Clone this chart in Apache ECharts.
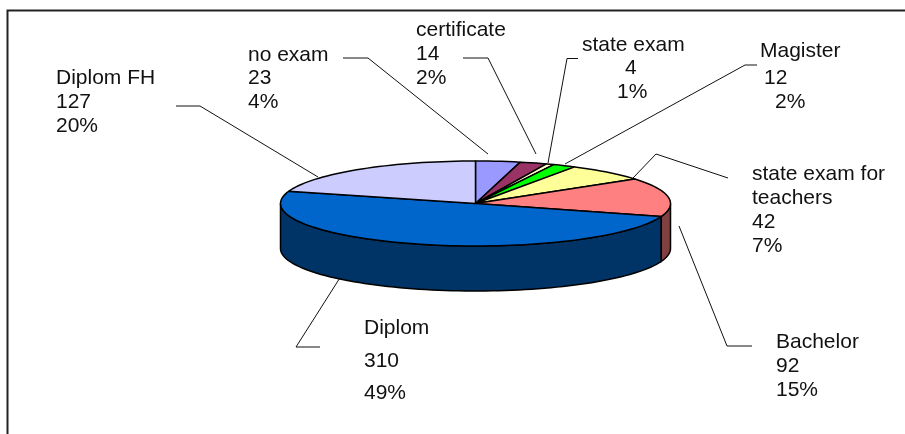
<!DOCTYPE html>
<html>
<head>
<meta charset="utf-8">
<title>Degrees</title>
<script src="https://cdn.jsdelivr.net/npm/echarts@6/dist/echarts.min.js"></script>
<style>
  html, body { margin: 0; padding: 0; background: #fff; }
  #main { width: 905px; height: 434px; }
</style>
</head>
<body>
<div id="main"></div>
<script>
// slices clockwise from 12 o'clock
var names = ['no exam', 'certificate', 'state exam', 'Magister', 'state exam for\nteachers', 'Bachelor', 'Diplom', 'Diplom FH']
var values = [23, 14, 4, 12, 42, 92, 310, 127]
var percents = ['4%', '2%', '1%', '2%', '7%', '15%', '49%', '20%']
var topColors = ['#9999FF', '#993366', '#FFFFCC', '#00FF00', '#FFFF99', '#FF8080', '#0066CC', '#CCCCFF']
var sideColors = ['#4D4D80', '#4D1A33', '#808066', '#008000', '#80804D', '#804040', '#003366', '#666680']

// ellipse of the pie top and height of the wall
var pie = { cx: 475.5, cy: 203.5, rx: 195, ry: 42.5, depth: 45 }
var total = values.reduce(function(a, b) { return a + b }, 0)

function pt(deg, dy) {
  var r = deg * Math.PI / 180
  return [pie.cx + pie.rx * Math.sin(r), pie.cy - pie.ry * Math.cos(r) + (dy || 0)]
}

function arc(from, to, dy) {
  var pts = []
  var n = Math.max(2, Math.ceil((to - from) / 2))
  for (var i = 0; i <= n; i++) {
    pts.push(pt(from + (to - from) * i / n, dy))
  }
  return pts
}

function renderSlice(params, api) {
  var before = 0
  for (var i = 0; i < params.dataIndex; i++) before += values[i]
  var start = before / total * 360
  var end = (before + api.value(0)) / total * 360
  var children = []
  // only the front half of the rim has a visible wall
  var wallFrom = Math.max(start, 90)
  var wallTo = Math.min(end, 270)
  if (wallTo > wallFrom) {
    children.push({
      type: 'polygon',
      z2: 1,
      shape: { points: arc(wallFrom, wallTo, 0).concat(arc(wallFrom, wallTo, pie.depth).reverse()) },
      style: { fill: sideColors[params.dataIndex], stroke: '#000', lineWidth: 1.5 }
    })
  }
  children.push({
    type: 'polygon',
    z2: 2,
    shape: { points: [[pie.cx, pie.cy]].concat(arc(start, end, 0)) },
    style: { fill: topColors[params.dataIndex], stroke: '#000', lineWidth: 1.5, lineJoin: 'round' }
  })
  return { type: 'group', children: children }
}

// label blocks: x is the left edge, ys the line centres
var labelBoxes = [
  { x: 248, y: [55, 78, 102] },
  { x: 416, y: [30, 54, 78] },
  { x: 582, y: [45, 68, 92], xs: [582, 625, 617] },
  { x: 760, y: [51, 78, 102], xs: [760, 764, 775] },
  { x: 752, y: [174, 198, 222, 246] },
  { x: 776, y: [342, 366, 390] },
  { x: 364, y: [328, 361, 393] },
  { x: 56, y: [78, 102, 126] }
]

var leaders = [
  [[343, 58], [368, 58], [488, 154]],
  [[463, 58], [488, 58], [536, 154]],
  [[578, 58.5], [567, 58.5], [548, 163]],
  [[757, 65], [745, 65], [565, 164]],
  [[728, 178], [656, 154], [633, 178]],
  [[752, 346], [727, 346], [679, 226]],
  [[320, 347], [296, 347], [343, 273]],
  [[176, 106], [200, 106], [318, 177]]
]

var graphics = [
  // frame, open at the bottom and right
  { type: 'polyline', z: 1, shape: { points: [[7.5, 434], [7.5, 10.5], [905, 10.5]] }, style: { stroke: '#222', lineWidth: 2, fill: null } }
]
leaders.forEach(function(p) {
  graphics.push({ type: 'polyline', z: 1, shape: { points: p }, style: { stroke: '#111', lineWidth: 1, fill: null } })
})
names.forEach(function(name, i) {
  var box = labelBoxes[i]
  var lines = name.split('\n').concat([String(values[i]), percents[i]])
  lines.forEach(function(line, j) {
    graphics.push({
      type: 'text',
      z: 3,
      x: box.xs ? box.xs[j] : box.x,
      y: box.y[j],
      style: { text: line, fill: '#111', font: '21px "Liberation Sans", Arial, sans-serif', textVerticalAlign: 'middle' }
    })
  })
})

var chart = echarts.init(document.getElementById('main'))
chart.setOption({
  animation: false,
  backgroundColor: '#fff',
  graphic: graphics,
  series: [{
    type: 'custom',
    coordinateSystem: 'none',
    renderItem: renderSlice,
    silent: true,
    data: values.map(function(v, i) { return { name: names[i], value: [v] } })
  }]
})
window.addEventListener('resize', function() {
  chart.resize()
})
</script>
</body>
</html>
